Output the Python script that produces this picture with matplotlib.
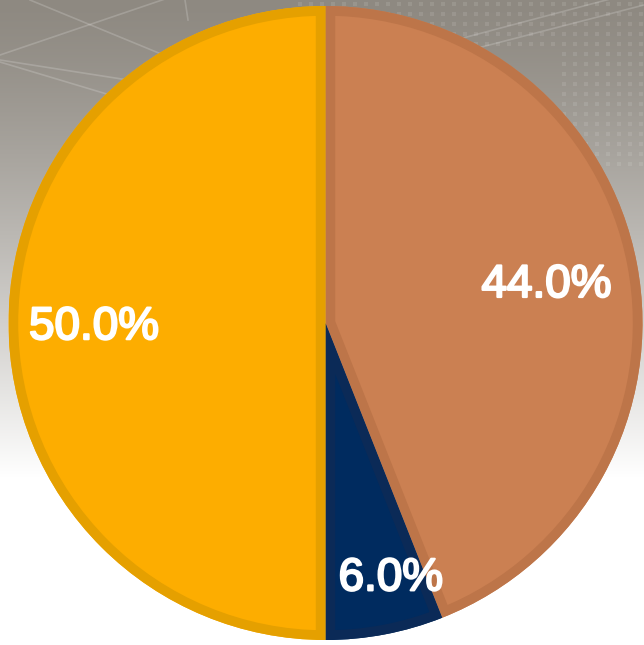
import numpy as np
import matplotlib
matplotlib.use("Agg")
import matplotlib.pyplot as plt
import matplotlib.patheffects as pe
from matplotlib.patches import Wedge

# Quote per segmento (senso orario a partire dall'alto)
etichette = ["44.0%", "6.0%", "50.0%"]
quote = [44.0, 6.0, 50.0]
colori = ["#CB8052", "#002B5F", "#FDAD00"]
bordi = ["#BD7549", "#0B2A57", "#E5A000"]
distanze_testo = [0.71, 0.82, 0.73]
spostamenti = [(0, -3), (12, 0), (0, -3)]  # punti, rispetto al centro etichetta

W, H = 644, 645
fig = plt.figure(figsize=(W / 100, H / 100), dpi=100)

# Sfondo: grigio in alto che sfuma verso il bianco
bg = fig.add_axes([0, 0, 1, 1])
y = np.linspace(0, 1, H)[:, None]
t = np.clip(y / 0.74, 0, 1) ** 1.3
top = np.array([142, 137, 129]) / 255
bottom = np.array([1.0, 1.0, 1.0])
grad = top + (bottom - top) * t[..., None]
grad = np.repeat(grad, W, axis=1)
bg.imshow(grad, extent=[0, W, H, 0], aspect="auto")

# trama leggera: linee e puntini della mappa sullo sfondo
for x0, y0, x1, y1 in [(0, 55, 280, -40), (0, 60, 160, 85), (0, 62, 110, 95),
                       (30, 0, 200, 70), (185, 0, 188, 20), (380, 60, 644, -10),
                       (470, 50, 644, 5)]:
    bg.plot([x0, x1], [y0, y1], color="white", alpha=0.18, lw=1.2)
gx, gy = np.meshgrid(np.arange(300, 644, 11), np.arange(4, 170, 10))
mask = (gy < 50) | (gx > 560)
bg.scatter(gx[mask], gy[mask], s=10, marker="s", color="white", alpha=0.10, lw=0)
bg.set_xlim(0, W)
bg.set_ylim(H, 0)
bg.axis("off")

# Torta
cx, cy, r = 325.5, 323, 317
ax = fig.add_axes([(cx - r) / W, (H - cy - r) / H, 2 * r / W, 2 * r / H])
wedges, _ = ax.pie(quote, colors=colori, startangle=90, counterclock=False,
                   radius=1.0, wedgeprops=dict(linewidth=0))
# bordo interno: contorno largo ritagliato sulla fetta
for w, bc in zip(wedges, bordi):
    contorno = Wedge(w.center, w.r, w.theta1, w.theta2, fill=False,
                     edgecolor=bc, linewidth=14)
    ax.add_patch(contorno)
    contorno.set_clip_path(w)

for w, lab, d, off in zip(wedges, etichette, distanze_testo, spostamenti):
    ang = np.deg2rad((w.theta1 + w.theta2) / 2)
    ax.annotate(lab, (d * np.cos(ang), d * np.sin(ang)), xytext=off,
                textcoords="offset points", ha="center", va="center",
                color="white", fontsize=33, family="Liberation Sans",
                path_effects=[pe.withStroke(linewidth=1.6, foreground="white")])
ax.set_xlim(-1, 1)
ax.set_ylim(-1, 1)
ax.axis("off")

fig.savefig("out.png", dpi=100)
